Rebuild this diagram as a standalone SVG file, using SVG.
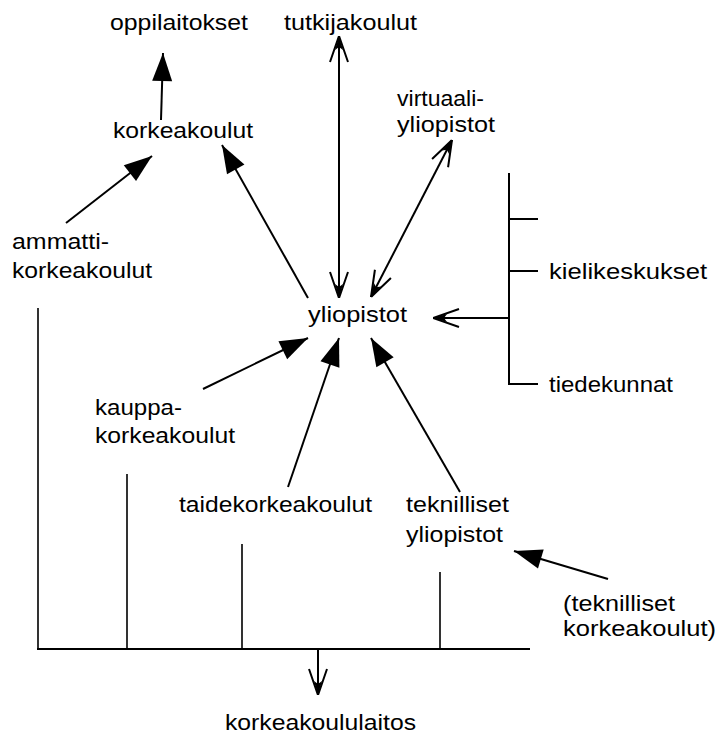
<svg xmlns="http://www.w3.org/2000/svg" width="720" height="738" viewBox="0 0 720 738">
<style>
text{font-family:"Liberation Sans",Arial,sans-serif;font-size:22px;fill:#000}
.c{stroke:#000;stroke-width:2;fill:none}
.t{stroke:#000;stroke-width:1.6;fill:none}
</style>
<defs>
<marker id="fa" markerWidth="30" markerHeight="22" viewBox="-30 -11 30 22" refX="0" refY="0" orient="auto" markerUnits="userSpaceOnUse"><path d="M0,0 L-28,-10 L-28,10 Z" fill="#000"/></marker>
<marker id="oa" markerWidth="30" markerHeight="22" viewBox="-30 -11 30 22" refX="0" refY="0" orient="auto-start-reverse" markerUnits="userSpaceOnUse"><path d="M-26,-9 L0,0 L-26,9" stroke="#000" stroke-width="2" fill="none"/><path d="M0,0 L-14,-4 L-11,0 L-14,4 Z" fill="#000"/></marker>
</defs>
<rect width="720" height="738" fill="#fff"/>
<g id="connectors">
<line class="c" x1="161" y1="120" x2="163" y2="53" marker-end="url(#fa)"/>
<line class="c" x1="66" y1="223" x2="152" y2="156" marker-end="url(#fa)"/>
<line class="c" x1="308" y1="298" x2="222" y2="145" marker-end="url(#fa)"/>
<line class="c" x1="339" y1="298" x2="339" y2="36" marker-start="url(#oa)" marker-end="url(#oa)"/>
<line class="c" x1="371" y1="297" x2="452" y2="140" marker-start="url(#oa)" marker-end="url(#oa)"/>
<line class="c" x1="203" y1="389" x2="308" y2="338" marker-end="url(#fa)"/>
<line class="c" x1="288" y1="487" x2="339" y2="338" marker-end="url(#fa)"/>
<line class="c" x1="460" y1="492" x2="371" y2="338" marker-end="url(#fa)"/>
<line class="c" x1="608" y1="579" x2="514" y2="551" marker-end="url(#fa)"/>
<path class="c" d="M509,173 V384 H538 M509,219 H538 M509,271 H538"/>
<line class="c" x1="509" y1="318" x2="433" y2="318" marker-end="url(#oa)"/>
<path class="t" d="M38,308 V649 M127,474 V649 M242,544 V649 M440,572 V649"/>
<line class="c" x1="37" y1="649" x2="530" y2="649"/>
<line class="c" x1="318" y1="649" x2="318" y2="695" marker-end="url(#oa)"/>
</g>
<g id="n-oppilaitokset"><text x="110" y="30" textLength="138" lengthAdjust="spacingAndGlyphs">oppilaitokset</text></g>
<g id="n-tutkijakoulut"><text x="284" y="30" textLength="133" lengthAdjust="spacingAndGlyphs">tutkijakoulut</text></g>
<g id="n-virtuaaliyliopistot"><text x="397" y="106" textLength="87" lengthAdjust="spacingAndGlyphs">virtuaali-</text><text x="397" y="132" textLength="98" lengthAdjust="spacingAndGlyphs">yliopistot</text></g>
<g id="n-korkeakoulut"><text x="113" y="138" textLength="140" lengthAdjust="spacingAndGlyphs">korkeakoulut</text></g>
<g id="n-ammattikorkeakoulut"><text x="12" y="249" textLength="97" lengthAdjust="spacingAndGlyphs">ammatti-</text><text x="12" y="278" textLength="140" lengthAdjust="spacingAndGlyphs">korkeakoulut</text></g>
<g id="n-yliopistot"><text x="308" y="322" textLength="99" lengthAdjust="spacingAndGlyphs">yliopistot</text></g>
<g id="n-kielikeskukset"><text x="549" y="279" textLength="158" lengthAdjust="spacingAndGlyphs">kielikeskukset</text></g>
<g id="n-tiedekunnat"><text x="549" y="392" textLength="124" lengthAdjust="spacingAndGlyphs">tiedekunnat</text></g>
<g id="n-kauppakorkeakoulut"><text x="95" y="415" textLength="87" lengthAdjust="spacingAndGlyphs">kauppa-</text><text x="95" y="443" textLength="140" lengthAdjust="spacingAndGlyphs">korkeakoulut</text></g>
<g id="n-taidekorkeakoulut"><text x="179" y="512" textLength="193" lengthAdjust="spacingAndGlyphs">taidekorkeakoulut</text></g>
<g id="n-teknillisetyliopistot"><text x="406" y="512" textLength="103" lengthAdjust="spacingAndGlyphs">teknilliset</text><text x="406" y="542" textLength="97" lengthAdjust="spacingAndGlyphs">yliopistot</text></g>
<g id="n-teknillisetkorkeakoulut"><text x="563" y="611" textLength="112" lengthAdjust="spacingAndGlyphs">(teknilliset</text><text x="563" y="636" textLength="153" lengthAdjust="spacingAndGlyphs">korkeakoulut)</text></g>
<g id="n-korkeakoululaitos"><text x="225" y="730" textLength="191" lengthAdjust="spacingAndGlyphs">korkeakoululaitos</text></g>
</svg>
